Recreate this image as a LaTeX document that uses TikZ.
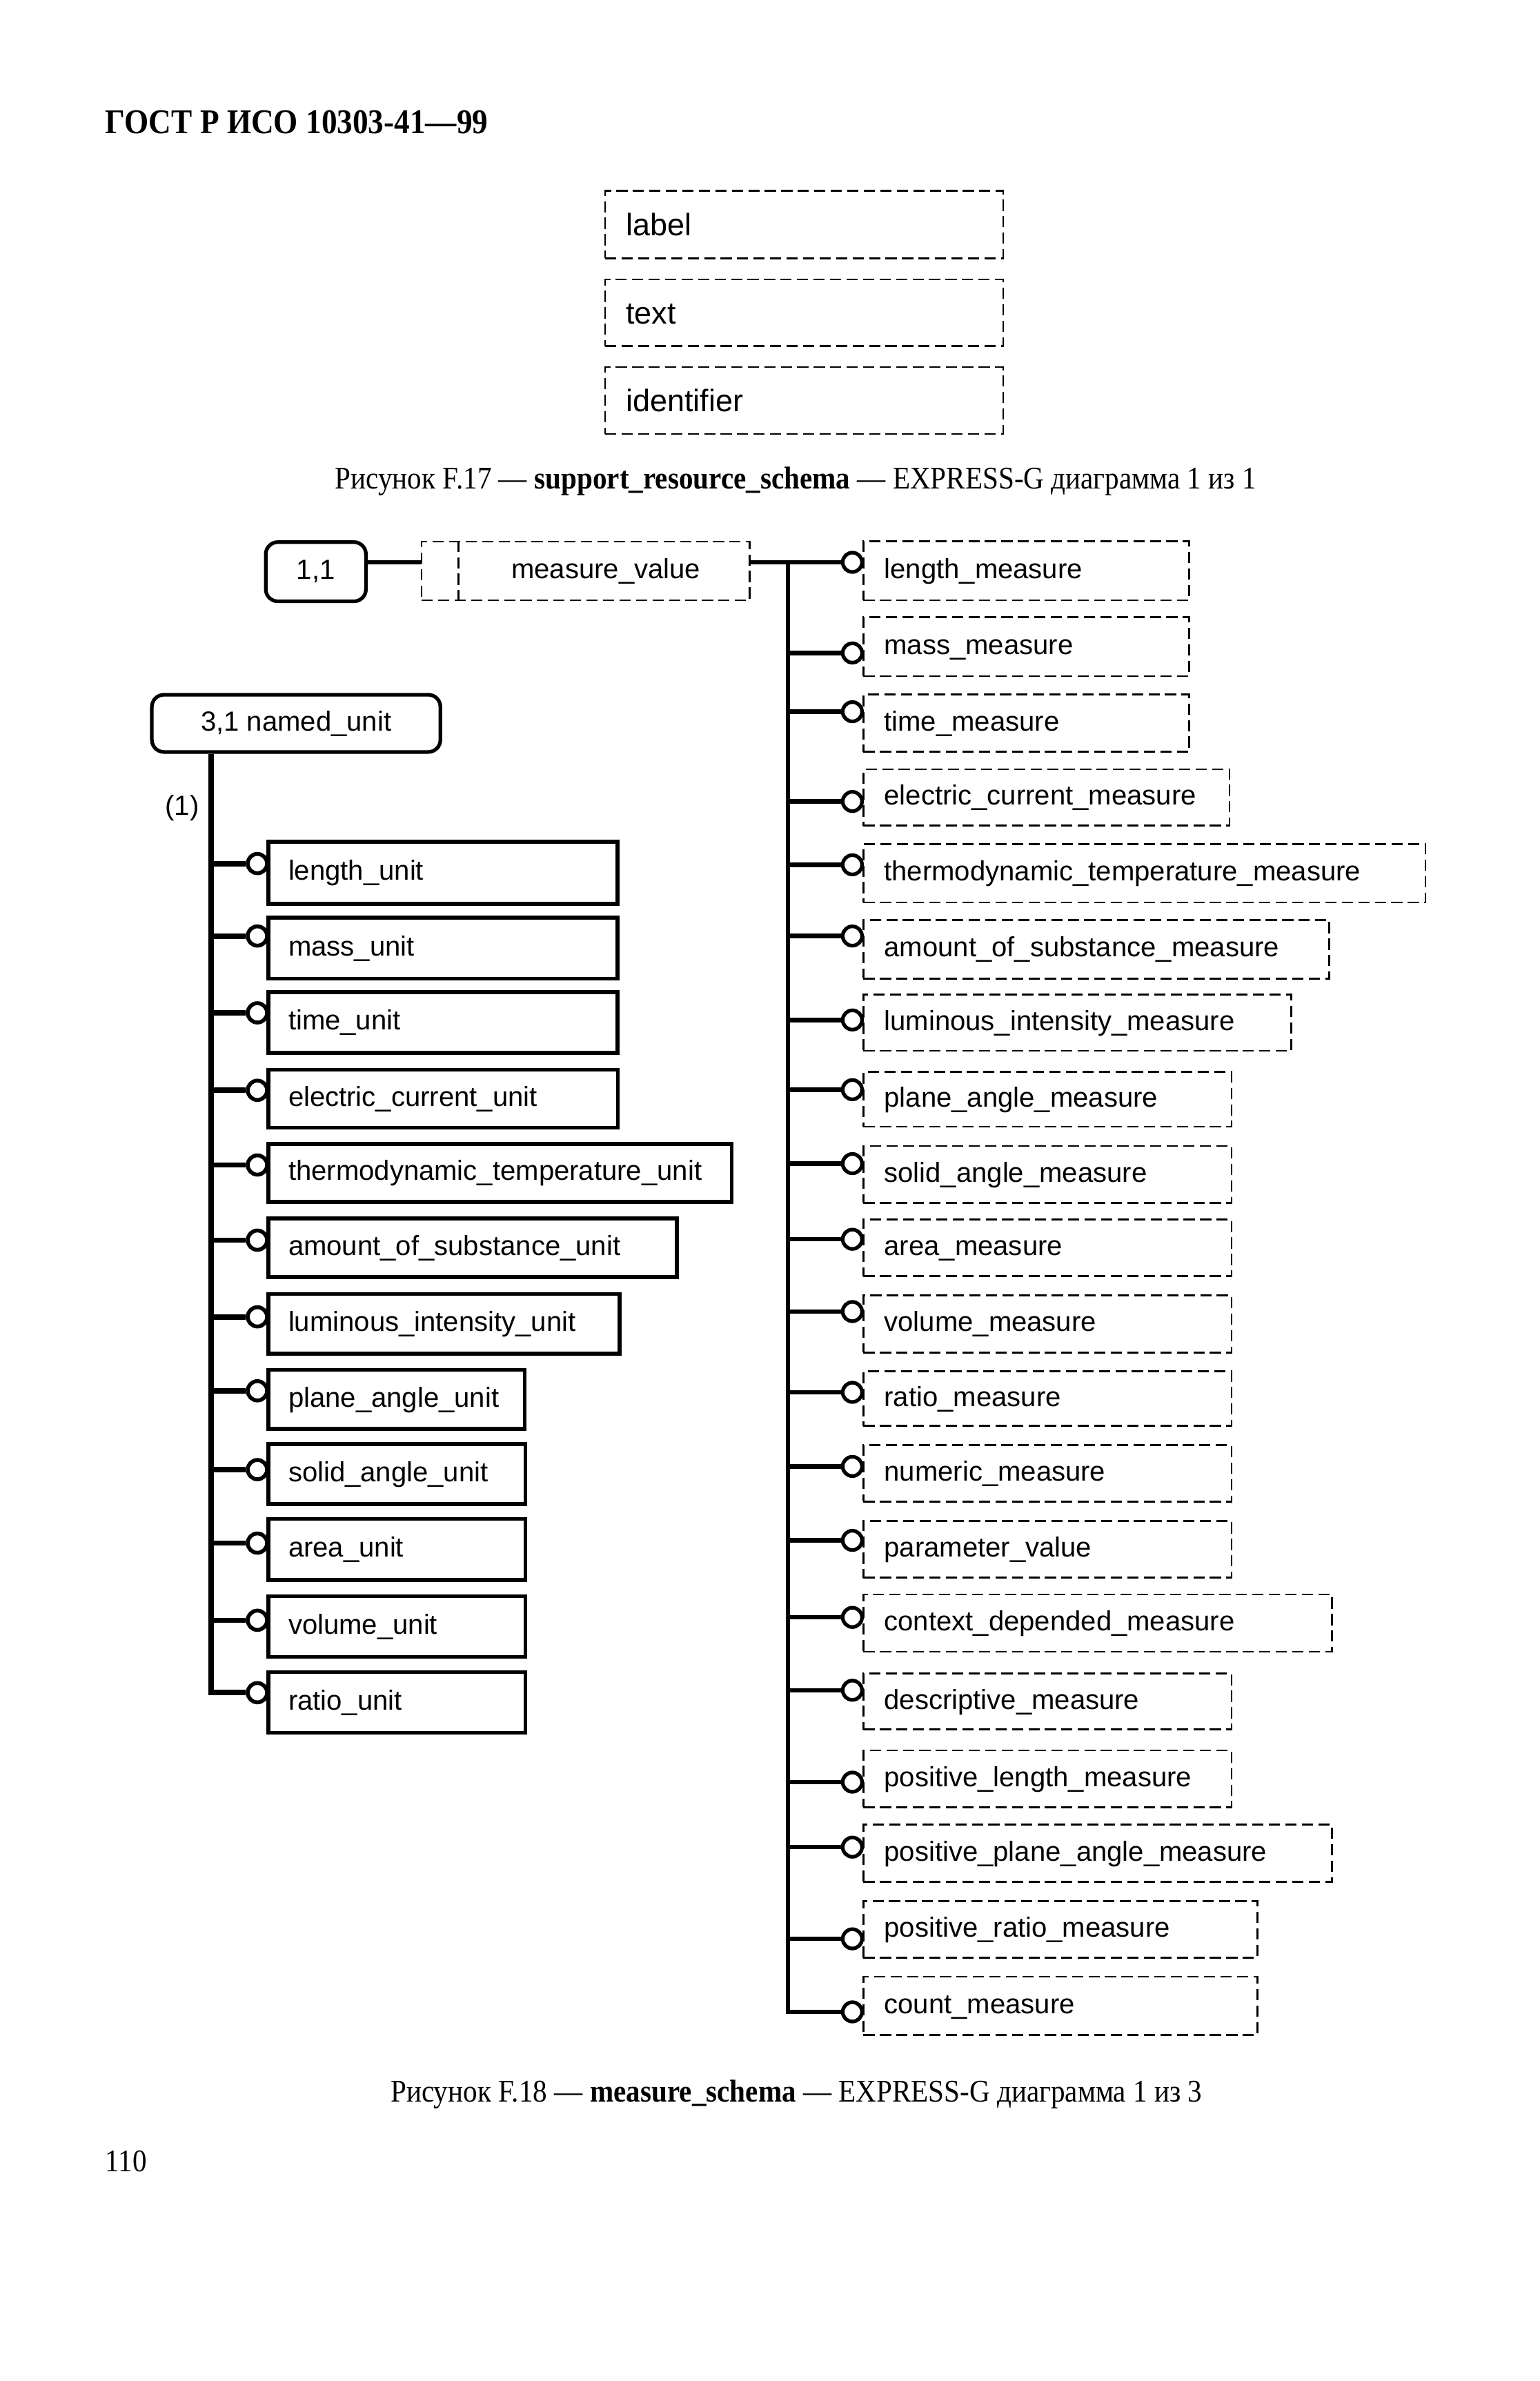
\documentclass[tikz,border=0pt]{standalone}
\usepackage{fontspec}
\setmainfont{Liberation Serif}
\newfontfamily\capf{Liberation Serif}[FakeStretch=0.9]
\newfontfamily\diaf{Liberation Sans}
\usetikzlibrary{fit,calc}

\tikzset{
  dashpat/.style={dash pattern=on 4.6pt off 2.2pt},
  boxL/.style={draw, line width=1.5pt, inner sep=0pt},
  boxR/.style={draw, line width=0.8pt, dashpat, inner sep=0pt},
  boxT/.style={draw, line width=0.8pt, dashpat, inner sep=0pt},
  rbox/.style={draw, line width=1.5pt, rounded corners=5pt, inner sep=0pt},
  etxt/.style={font=\diaf\fontsize{11.4}{13}\selectfont, inner sep=0pt},
  ttxt/.style={font=\diaf\fontsize{12.8}{15}\selectfont, inner sep=0pt},
  ringL/.style={circle, draw, line width=1.6pt, minimum size=0.28cm, inner sep=0pt},
  ringR/.style={circle, draw, line width=1.5pt, minimum size=0.28cm, inner sep=0pt},
  connL/.style={line width=2.2pt},
  connR/.style={line width=1.8pt},
  captxt/.style={font=\capf\fontsize{13}{15}\selectfont, inner sep=0pt},
  hdrtxt/.style={font=\capf\bfseries\fontsize{14.3}{16}\selectfont, inner sep=0pt},
}

% #1 name, #2 L/R, #3 x1, #4 y1, #5 x2, #6 y2, #7 circle y, #8 text, #9 trunk coordinate
\newcommand{\ent}[9]{%
  \node[box#2, fit={(#3,#4) (#5,#6)}] (#1) {};
  \node[etxt, anchor=base west] (#1t) at ($(#1.west)+(14,5)$) {#8};
  \node[ring#2] (#1c) at ({#3-7.3},#7) {};
  \draw[conn#2] (#9 |- #1c.west) -- (#1c.west);
}

\begin{document}
\begin{tikzpicture}[x=0.022cm, y=-0.022cm]
\fill[white] (0,0) rectangle (1013.7,1568);
\useasboundingbox (0,0) rectangle (1013.7,1568);

% header
\node[hdrtxt, anchor=base west] (hdr) at (69,88) {ГОСТ Р ИСО 10303-41—99};

% Figure F.17
\node[boxT, fit={(398.5,125.5) (660.6,170)}] (lab) {};
\node[ttxt, anchor=base west] (labt) at ($(lab.west)+(14,7.3)$) {label};
\node[boxT, fit={(398.5,184) (660.6,228)}] (txt) {};
\node[ttxt, anchor=base west] (txtt) at ($(txt.west)+(14,7.3)$) {text};
\node[boxT, fit={(398.5,241.7) (660.6,285.8)}] (ident) {};
\node[ttxt, anchor=base west] (identt) at ($(ident.west)+(14,7.3)$) {identifier};

\node[captxt, anchor=base] (cap17) at (524,322) {Рисунок F.17 — \textbf{support\_resource\_schema} — EXPRESS-G диаграмма 1 из 1};

% Figure F.18 : top part
\node[rbox, fit={(175,357) (241,396)}] (one) {};
\node[etxt, anchor=base] (onet) at (208,381.5) {1,1};
\node[boxR, fit={(277.6,356.7) (493.7,395.3)}] (mv) {};
\draw[line width=0.8pt, dashpat] (mv.north -| 302,0) -- (mv.south -| 302,0);
\node[etxt, anchor=base] (mvt) at (399,381) {measure\_value};

\coordinate (Lx) at (139,0);
\coordinate (Rx) at (519,0);

% right column
\ent{lm}{R}{568.6}{356.6}{783}{395.3}{370.3}{length\_measure}{Rx}
\ent{msm}{R}{568.6}{406.6}{783}{445.3}{430}{mass\_measure}{Rx}
\ent{tm}{R}{568.6}{457.4}{783}{495.2}{468.7}{time\_measure}{Rx}
\ent{ecm}{R}{568.6}{506.6}{809.7}{543.7}{527.8}{electric\_current\_measure}{Rx}
\ent{thm}{R}{568.6}{555.8}{938.7}{594.3}{569.5}{thermodynamic\_temperature\_measure}{Rx}
\ent{asm}{R}{568.6}{605.8}{875.5}{644.4}{616.4}{amount\_of\_substance\_measure}{Rx}
\ent{lim}{R}{568.6}{655}{850.4}{692}{671.7}{luminous\_intensity\_measure}{Rx}
\ent{pam}{R}{568.6}{706}{811}{742}{717.6}{plane\_angle\_measure}{Rx}
\ent{sam}{R}{568.6}{754.7}{811}{792}{766.3}{solid\_angle\_measure}{Rx}
\ent{arm}{R}{568.6}{803}{811}{840.5}{816.1}{area\_measure}{Rx}
\ent{vom}{R}{568.6}{853}{811}{890.6}{863.7}{volume\_measure}{Rx}
\ent{ram}{R}{568.6}{903}{811}{939}{916.9}{ratio\_measure}{Rx}
\ent{num}{R}{568.6}{951.8}{811}{988.8}{965.7}{numeric\_measure}{Rx}
\ent{pav}{R}{568.6}{1001.6}{811}{1039}{1014.4}{parameter\_value}{Rx}
\ent{cdm}{R}{568.6}{1050}{877}{1087.7}{1065.1}{context\_depended\_measure}{Rx}
\ent{dem}{R}{568.6}{1102}{811}{1139}{1113.1}{descriptive\_measure}{Rx}
\ent{plm}{R}{568.6}{1152.7}{811}{1190}{1173.6}{positive\_length\_measure}{Rx}
\ent{ppm}{R}{568.6}{1201.7}{877}{1239.3}{1216.4}{positive\_plane\_angle\_measure}{Rx}
\ent{prm}{R}{568.6}{1251.8}{828}{1289.4}{1276.8}{positive\_ratio\_measure}{Rx}
\ent{com}{R}{568.6}{1301.7}{828}{1340.3}{1324.9}{count\_measure}{Rx}

\draw[connR] (one.east |- lmc.west) -- (mv.west |- lmc.west);
\draw[connR] (mv.east |- lmc.west) -- (Rx |- lmc.west);
\draw[connR] (Rx |- lmc.west) |- (comc.west);

% left column
\node[rbox, fit={(100,457.5) (290,495.2)}] (named) {};
\node[etxt, anchor=base] (namedt) at (195,481.5) {3,1 named\_unit};
\node[etxt, anchor=base] (one1) at (120,537) {(1)};

\ent{lu}{L}{176.8}{554.3}{406.6}{595.2}{568.7}{length\_unit}{Lx}
\ent{mu}{L}{176.8}{604.3}{406.6}{644.4}{616.4}{mass\_unit}{Lx}
\ent{tu}{L}{176.8}{653.4}{406.6}{693.3}{667}{time\_unit}{Lx}
\ent{ecu}{L}{176.8}{704.6}{407}{742.8}{718}{electric\_current\_unit}{Lx}
\ent{thu}{L}{176.8}{753.3}{481.7}{791.5}{767.2}{thermodynamic\_temperature\_unit}{Lx}
\ent{asu}{L}{176.8}{802.4}{445.7}{841}{816.7}{amount\_of\_substance\_unit}{Lx}
\ent{liu}{L}{176.8}{852.3}{408}{891.4}{867.2}{luminous\_intensity\_unit}{Lx}
\ent{pau}{L}{176.8}{902}{345.6}{941}{915.9}{plane\_angle\_unit}{Lx}
\ent{sau}{L}{176.8}{951}{346}{990.5}{967.8}{solid\_angle\_unit}{Lx}
\ent{aru}{L}{176.8}{1000.3}{346}{1040.5}{1016.2}{area\_unit}{Lx}
\ent{vou}{L}{176.8}{1051}{346}{1091.2}{1067}{volume\_unit}{Lx}
\ent{rau}{L}{176.8}{1101}{346}{1141.2}{1114.7}{ratio\_unit}{Lx}

\draw[connL] (named.south -| Lx) |- (rauc.west);

\node[captxt, anchor=base] (cap18) at (524.5,1384) {Рисунок F.18 — \textbf{measure\_schema} — EXPRESS-G диаграмма 1 из 3};
\node[captxt, anchor=base west] (pg) at (69,1430) {110};
\end{tikzpicture}
\end{document}
